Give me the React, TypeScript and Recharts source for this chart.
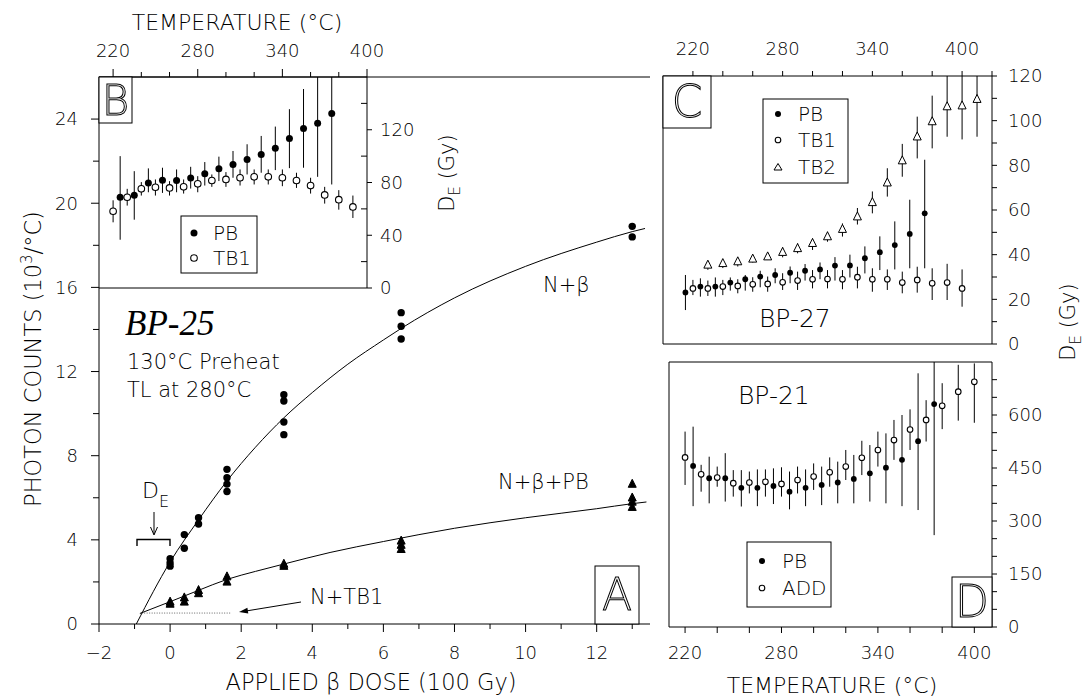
import React from 'react';
import { ComposedChart, Scatter, Line, XAxis, YAxis, ErrorBar, ReferenceLine } from 'recharts';

const FONT = '"DejaVu Sans", "Liberation Sans", sans-serif';
const FW = 200;
const TFS = 18;
const W = 1087;
const H = 697;

// ---------------- Panel A (dose response) ----------------
const doseNB = [0, 0, 0, 0.4, 0.4, 0.8, 0.8, 1.6, 1.6, 1.6, 1.6, 3.2, 3.2, 3.2, 3.2, 6.5, 6.5, 6.5, 13, 13];
const countNB = [3.1, 2.9, 2.75, 4.25, 3.6, 5.05, 4.75, 7.35, 6.95, 6.65, 6.3, 10.9, 10.6, 9.6, 9.0, 14.8, 14.15, 13.55, 18.9, 18.4];
const dosePB = [0, 0, 0.4, 0.4, 0.8, 0.8, 1.6, 1.6, 3.2, 3.2, 6.5, 6.5, 6.5, 13, 13, 13, 13];
const countPB = [1.05, 0.95, 1.25, 1.05, 1.6, 1.45, 2.25, 2.0, 2.85, 2.75, 3.95, 3.75, 3.55, 6.65, 6.0, 5.8, 5.55];
const fitNBdose = [-0.95, 0, 0.8, 1.6, 2.4, 3.2, 4, 5, 6, 6.5, 8, 10, 12, 13, 13.36];
const fitNBcount = [0, 2.95, 4.95, 6.8, 8.4, 9.8, 11.0, 12.35, 13.5, 14.05, 15.5, 17.0, 18.15, 18.65, 18.8];
const fitPBdose = [-0.85, 0, 0.8, 1.6, 2.4, 3.2, 4.5, 6, 8, 10, 12, 13, 13.4];
const fitPBcount = [0.5, 1.06, 1.6, 2.12, 2.5, 2.85, 3.4, 3.92, 4.55, 5.05, 5.48, 5.72, 5.8];
const tb1Dose = [-0.8, 1.7];
const tb1Count = [0.52, 0.52];
const aTicksX = [-2, -1, 0, 1, 2, 3, 4, 5, 6, 7, 8, 9, 10, 11, 12, 13];
const aTicksY = [0, 2, 4, 6, 8, 10, 12, 14, 16, 18, 20, 22, 24];

// ---------------- Panel B (BP-25 plateau) ----------------
const tempB_PB = [225, 235, 245, 255, 265, 275, 285, 295, 305, 315, 325, 335, 345, 355, 365, 375];
const deB_PB = [68.8, 70.4, 79.7, 81.8, 81.5, 83.5, 86.6, 90.4, 93.7, 97.5, 101.3, 105.9, 113.3, 120.9, 125, 132.3];
const loB_PB = [36.6, 51.8, 72.6, 72.1, 72.6, 75.4, 77.7, 81.1, 83.6, 86.1, 87.4, 89.4, 90.9, 91.2, 84.3, 78.5];
const hiB_PB = [100, 88.6, 90.7, 91.2, 89.9, 91.9, 95.5, 99.6, 103.9, 109, 115.3, 122.4, 135.6, 150.9, 160, 160];
const tempB_TB1 = [220, 230, 240, 250, 260, 270, 280, 290, 300, 310, 320, 330, 340, 350, 360, 370, 380, 390];
const deB_TB1 = [58.2, 68.8, 75.2, 76.4, 75.9, 76.7, 79.0, 81.5, 82.3, 83.6, 84.3, 84.3, 83.6, 81.5, 77.7, 70.6, 67.0, 61.5];
const loB_TB1 = [49.8, 62.5, 70.1, 70.1, 70.1, 71.6, 72.6, 76.7, 76.7, 77.7, 78.5, 78.5, 77.2, 75.9, 71.6, 64.0, 59.4, 53.1];
const hiB_TB1 = [66.5, 75.2, 80.3, 82.3, 81.0, 82.3, 84.8, 86.1, 87.9, 89.9, 89.9, 89.9, 89.9, 87.4, 83.6, 76.7, 74.2, 70.1];
const bTicksX = [220, 240, 260, 280, 300, 320, 340, 360, 380, 400];
const bTicksY = [0, 20, 40, 60, 80, 100, 120, 140];

// ---------------- Panel C (BP-27) ----------------
const tempC_PB = [215, 225, 235, 245, 255, 265, 275, 285, 295, 305, 315, 325, 335, 345, 355, 365, 375];
const deC_PB = [23.1, 25.7, 25.7, 27.5, 29.0, 30.2, 30.9, 31.9, 32.8, 33.4, 35.1, 35.2, 38.4, 41.1, 44.3, 49.3, 58.5];
const loC_PB = [15.2, 21.2, 21.2, 23.9, 23.9, 25.4, 27.2, 27.2, 28.4, 29.0, 28.4, 29.8, 31.6, 33.1, 33.4, 33.9, 33.9];
const hiC_PB = [30.9, 29.4, 29.8, 29.8, 30.9, 32.8, 33.9, 34.7, 35.8, 36.5, 38.9, 40.0, 43.7, 48.2, 54.9, 64.6, 82.5];
const tempC_TB1 = [220, 230, 240, 250, 260, 270, 280, 290, 300, 310, 320, 330, 340, 350, 360, 370, 380, 390, 400];
const deC_TB1 = [24.9, 24.9, 25.7, 26.0, 26.7, 26.9, 27.6, 28.4, 29.0, 29.1, 29.0, 29.9, 29.0, 29.0, 27.5, 28.7, 27.2, 27.5, 24.9];
const loC_TB1 = [21.9, 21.5, 21.9, 22.7, 23.4, 23.4, 24.2, 24.2, 24.9, 24.9, 24.5, 24.9, 23.4, 24.2, 22.7, 23.0, 19.7, 19.7, 16.7];
const hiC_TB1 = [28.7, 28.4, 28.7, 29.0, 29.9, 30.2, 31.7, 32.4, 33.1, 33.1, 33.1, 34.6, 33.9, 33.4, 32.4, 34.6, 33.9, 35.9, 33.4];
const tempC_TB2 = [230, 240, 250, 260, 270, 280, 290, 300, 310, 320, 330, 340, 350, 360, 370, 380, 390, 400, 410];
const deC_TB2 = [35.4, 36.1, 36.9, 38.1, 39.1, 41.1, 42.8, 45.1, 48.1, 51.4, 57.0, 63.4, 72.2, 82.1, 92.8, 99.6, 106.3, 106.7, 109.6];
const loC_TB2 = [33.2, 34.0, 34.7, 36.5, 37.6, 38.8, 40.6, 42.1, 45.8, 48.1, 53.5, 58.5, 66.0, 74.9, 83.1, 87.6, 92.8, 91.6, 92.8];
const hiC_TB2 = [36.9, 37.6, 38.4, 39.9, 40.6, 43.3, 45.1, 47.3, 50.3, 54.0, 60.9, 68.3, 78.7, 89.6, 101.8, 111.2, 120, 120, 120];
const cTicksX = [220, 240, 260, 280, 300, 320, 340, 360, 380, 400, 420];
const cTicksY = [0, 10, 20, 30, 40, 50, 60, 70, 80, 90, 100, 110, 120];

// ---------------- Panel D (BP-21) ----------------
const tempD_PB = [225, 235, 245, 255, 265, 275, 285, 295, 305, 315, 325, 335, 345, 355, 365, 375];
const deD_PB = [456, 421, 421, 394, 394, 399, 383, 394, 402, 409, 419, 435, 451, 473, 526, 631];
const loD_PB = [342, 350, 355, 341, 342, 348, 333, 342, 345, 350, 350, 355, 350, 342, 331, 260];
const hiD_PB = [567, 482, 492, 444, 446, 449, 440, 446, 454, 468, 487, 515, 548, 600, 718, 750];
const tempD_ADD = [220, 230, 240, 250, 260, 270, 280, 290, 300, 310, 320, 330, 340, 350, 360, 370, 380, 390, 400];
const deD_ADD = [480, 432, 423, 407, 409, 411, 405, 416, 426, 438, 454, 479, 501, 529, 559, 586, 626, 666, 694];
const loD_ADD = [402, 383, 397, 369, 378, 369, 369, 378, 388, 397, 416, 430, 454, 473, 501, 525, 560, 584, 578];
const hiD_ADD = [553, 459, 454, 444, 440, 446, 452, 454, 463, 480, 501, 527, 553, 586, 616, 642, 690, 742, 746];
const dTicksX = [220, 240, 260, 280, 300, 320, 340, 360, 380, 400];
const dTicksY = [0, 50, 100, 150, 200, 250, 300, 350, 400, 450, 500, 550, 600, 650, 700];

// ---------------- helpers ----------------
const zip = (xs: number[], ys: number[]) => xs.map((x, i) => ({ x, y: ys[i] }));
const zipErr = (xs: number[], ys: number[], lo: number[], hi: number[]) =>
  xs.map((x, i) => ({ x, y: ys[i], e: [ys[i] - lo[i], hi[i] - ys[i]] }));

type Orient = 'left' | 'right' | 'top' | 'bottom';
function mkTick(orient: Orient, spec: (v: number) => { len: number; label?: string | null }, gap: number, fs = TFS) {
  return (props: any) => {
    const { x, y, payload } = props;
    const v = Number(payload.value);
    const { len, label } = spec(v);
    const out = Math.max(len, 0);
    let x2 = x, y2 = y, tx = x, ty = y;
    let anchor: any = 'middle';
    if (orient === 'bottom') { y2 = y + len; ty = y + out + gap + fs * 0.5; }
    else if (orient === 'top') { y2 = y - len; ty = y - out - gap - fs * 0.5; }
    else if (orient === 'left') { x2 = x - len; tx = x - out - gap; anchor = 'end'; }
    else { x2 = x + len; tx = x + out + gap; anchor = 'start'; }
    return (
      <g>
        {len !== 0 && <line x1={x} y1={y} x2={x2} y2={y2} stroke="#000" strokeWidth={1} />}
        {label != null && (
          <text x={tx} y={ty} dy="0.35em" textAnchor={anchor} fontSize={fs} fontFamily={FONT} fontWeight={FW} fill="#000">
            {label}
          </text>
        )}
      </g>
    );
  };
}
const fmt = (v: number) => (v < 0 ? '\u2212' + Math.abs(v) : String(v));

const filledDot = (r: number) => (p: any) => <circle cx={p.cx} cy={p.cy} r={r} fill="#000" />;
const openDot = (r: number) => (p: any) => <circle cx={p.cx} cy={p.cy} r={r} fill="#fff" stroke="#000" strokeWidth={1.1} />;
const tri = (s: number, filled: boolean) => (p: any) => (
  <polygon
    points={`${p.cx},${p.cy - s * 0.6} ${p.cx - s / 2},${p.cy + s * 0.4} ${p.cx + s / 2},${p.cy + s * 0.4}`}
    fill={filled ? '#000' : '#fff'}
    stroke="#000"
    strokeWidth={1}
  />
);

const axisLine = { stroke: '#000', strokeWidth: 1 };
const abs: React.CSSProperties = { position: 'absolute', left: 0, top: 0 };

// plot rectangles (pixels)
const A = { l: 99, r: 650, t: 77, b: 624 };
const B = { l: 99, r: 367, t: 77, b: 288 };
const C = { l: 663, r: 992, t: 76, b: 344 };
const D = { l: 669, r: 992, t: 362, b: 627 };

function PanelA() {
  return (
    <div style={abs}>
      <ComposedChart width={W} height={H} margin={{ top: A.t, right: W - A.r, bottom: H - A.b - 40, left: A.l - 70 }}>
        <XAxis type="number" dataKey="x" domain={[-2, 13.5]} ticks={aTicksX} interval={0} height={40}
          tickSize={0} tickMargin={0} tickLine={false} axisLine={axisLine}
          tick={mkTick('bottom', (v) => (v % 2 === 0 ? { len: 8, label: fmt(v) } : { len: 5 }), 12)} />
        <YAxis type="number" dataKey="y" domain={[0, 26]} ticks={aTicksY} interval={0} width={70}
          tickSize={0} tickMargin={0} tickLine={false} axisLine={axisLine}
          tick={mkTick('left', (v) => (v % 4 === 0 ? { len: 8, label: fmt(v) } : { len: 6 }), 13)} />
        <ReferenceLine y={26} stroke="#000" strokeWidth={1} />
        <Line data={zip(tb1Dose, tb1Count)} dataKey="y" type="linear" dot={false} stroke="#666" strokeWidth={1}
          strokeDasharray="1 1.5" isAnimationActive={false} />
        <Line data={zip(fitNBdose, fitNBcount)} dataKey="y" type="monotone" dot={false} stroke="#000" strokeWidth={1} isAnimationActive={false} />
        <Line data={zip(fitPBdose, fitPBcount)} dataKey="y" type="monotone" dot={false} stroke="#000" strokeWidth={1} isAnimationActive={false} />
        <Scatter data={zip(doseNB, countNB)} shape={filledDot(3.7)} isAnimationActive={false} />
        <Scatter data={zip(dosePB, countPB)} shape={tri(8, true)} isAnimationActive={false} />
      </ComposedChart>
    </div>
  );
}

function PanelB() {
  return (
    <div style={abs}>
      <ComposedChart width={W} height={H} margin={{ top: B.t - 40, right: W - B.r - 60, bottom: H - B.b - 10, left: B.l }}>
        <XAxis xAxisId="t" orientation="top" type="number" dataKey="x" domain={[210, 400]} ticks={bTicksX} interval={0} height={40}
          tickSize={0} tickMargin={0} tickLine={false} axisLine={axisLine}
          tick={mkTick('top', (v) => ((v - 220) % 60 === 0 ? { len: 8, label: String(v) } : { len: 5 }), 9)} />
        <XAxis xAxisId="b" orientation="bottom" type="number" dataKey="x" domain={[210, 400]} ticks={bTicksX.slice(0, -1)} interval={0} height={10}
          tickSize={0} tickMargin={0} tickLine={false} axisLine={axisLine}
          tick={mkTick('bottom', () => ({ len: -5 }), 0)} />
        <YAxis yAxisId="r" orientation="right" type="number" dataKey="y" domain={[0, 160]} ticks={bTicksY} interval={0} width={60}
          tickSize={0} tickMargin={0} tickLine={false} axisLine={axisLine}
          tick={mkTick('right', (v) => (v % 40 === 0 ? { len: 5, label: String(v) } : { len: -6 }), 8)} />
        <Scatter xAxisId="t" yAxisId="r" data={zipErr(tempB_TB1, deB_TB1, loB_TB1, hiB_TB1)} shape={openDot(3.3)} isAnimationActive={false}>
          <ErrorBar dataKey="e" width={0} stroke="#000" strokeWidth={1} direction="y" />
        </Scatter>
        <Scatter xAxisId="t" yAxisId="r" data={zipErr(tempB_PB, deB_PB, loB_PB, hiB_PB)} shape={filledDot(3.5)} isAnimationActive={false}>
          <ErrorBar dataKey="e" width={0} stroke="#000" strokeWidth={1} direction="y" />
        </Scatter>
      </ComposedChart>
    </div>
  );
}

function PanelC() {
  return (
    <div style={abs}>
      <ComposedChart width={W} height={H} margin={{ top: C.t - 40, right: W - C.r - 60, bottom: H - C.b - 10, left: C.l - 10 }}>
        <XAxis xAxisId="t" orientation="top" type="number" dataKey="x" domain={[200, 420]} ticks={cTicksX} interval={0} height={40}
          tickSize={0} tickMargin={0} tickLine={false} axisLine={axisLine}
          tick={mkTick('top', (v) => ((v - 220) % 60 === 0 ? { len: 5, label: String(v) } : { len: 5 }), 13)} />
        <XAxis xAxisId="b" orientation="bottom" type="number" dataKey="x" domain={[200, 420]} ticks={cTicksX.slice(0, -1)} interval={0} height={10}
          tickSize={0} tickMargin={0} tickLine={false} axisLine={axisLine}
          tick={mkTick('bottom', () => ({ len: -5 }), 0)} />
        <YAxis yAxisId="r" orientation="right" type="number" dataKey="y" domain={[0, 120]} ticks={cTicksY} interval={0} width={60}
          tickSize={0} tickMargin={0} tickLine={false} axisLine={axisLine}
          tick={mkTick('right', (v) => (v % 20 === 0 ? { len: 5, label: String(v) } : { len: 5 }), 11)} />
        <YAxis yAxisId="l" orientation="left" type="number" dataKey="y" domain={[0, 120]} ticks={cTicksY.slice(1, -1)} interval={0} width={10}
          tickSize={0} tickMargin={0} tickLine={false} axisLine={axisLine}
          tick={mkTick('left', () => ({ len: -5 }), 0)} />
        <Scatter xAxisId="t" yAxisId="r" data={zipErr(tempC_TB2, deC_TB2, loC_TB2, hiC_TB2)} shape={tri(8, false)} isAnimationActive={false}>
          <ErrorBar dataKey="e" width={0} stroke="#000" strokeWidth={1} direction="y" />
        </Scatter>
        <Scatter xAxisId="t" yAxisId="r" data={zipErr(tempC_TB1, deC_TB1, loC_TB1, hiC_TB1)} shape={openDot(2.8)} isAnimationActive={false}>
          <ErrorBar dataKey="e" width={0} stroke="#000" strokeWidth={1} direction="y" />
        </Scatter>
        <Scatter xAxisId="t" yAxisId="r" data={zipErr(tempC_PB, deC_PB, loC_PB, hiC_PB)} shape={filledDot(2.9)} isAnimationActive={false}>
          <ErrorBar dataKey="e" width={0} stroke="#000" strokeWidth={1} direction="y" />
        </Scatter>
      </ComposedChart>
    </div>
  );
}

function PanelD() {
  return (
    <div style={abs}>
      <ComposedChart width={W} height={H} margin={{ top: D.t - 10, right: W - D.r - 60, bottom: H - D.b - 40, left: D.l - 10 }}>
        <XAxis xAxisId="b" orientation="bottom" type="number" dataKey="x" domain={[210, 411]} ticks={dTicksX} interval={0} height={40}
          tickSize={0} tickMargin={0} tickLine={false} axisLine={axisLine}
          tick={mkTick('bottom', (v) => ((v - 220) % 60 === 0 ? { len: 6, label: String(v) } : { len: 6 }), 11)} />
        <XAxis xAxisId="t" orientation="top" type="number" dataKey="x" domain={[210, 411]} ticks={dTicksX} interval={0} height={10}
          tickSize={0} tickMargin={0} tickLine={false} axisLine={axisLine}
          tick={mkTick('top', () => ({ len: -5 }), 0)} />
        <YAxis yAxisId="r" orientation="right" type="number" dataKey="y" domain={[0, 750]} ticks={dTicksY} interval={0} width={60}
          tickSize={0} tickMargin={0} tickLine={false} axisLine={axisLine}
          tick={mkTick('right', (v) => (v % 150 === 0 ? { len: 5, label: String(v) } : { len: 5 }), 11)} />
        <YAxis yAxisId="l" orientation="left" type="number" dataKey="y" domain={[0, 750]} ticks={dTicksY.slice(1)} interval={0} width={10}
          tickSize={0} tickMargin={0} tickLine={false} axisLine={axisLine}
          tick={mkTick('left', () => ({ len: -5 }), 0)} />
        <Scatter xAxisId="b" yAxisId="r" data={zipErr(tempD_PB, deD_PB, loD_PB, hiD_PB)} shape={filledDot(2.9)} isAnimationActive={false}>
          <ErrorBar dataKey="e" width={0} stroke="#000" strokeWidth={1} direction="y" />
        </Scatter>
        <Scatter xAxisId="b" yAxisId="r" data={zipErr(tempD_ADD, deD_ADD, loD_ADD, hiD_ADD)} shape={openDot(2.8)} isAnimationActive={false}>
          <ErrorBar dataKey="e" width={0} stroke="#000" strokeWidth={1} direction="y" />
        </Scatter>
      </ComposedChart>
    </div>
  );
}

function Overlay() {
  const t = { fontFamily: FONT, fontWeight: FW, fill: '#000' } as any;
  const big = { fontFamily: FONT, fontWeight: FW, fill: 'none', stroke: '#000', strokeWidth: 1 } as any;
  return (
    <svg width={W} height={H} style={abs}>
      {/* axis titles */}
      <text x={237} y={22} dy="0.35em" textAnchor="middle" fontSize={22} {...t}>TEMPERATURE (°C)</text>
      <text x={832} y={685} dy="0.35em" textAnchor="middle" fontSize={22} {...t}>TEMPERATURE (°C)</text>
      <text x={371} y={682} dy="0.35em" textAnchor="middle" fontSize={22.5} {...t}>APPLIED β DOSE (100 Gy)</text>
      <text transform="translate(33,359) rotate(-90)" dy="0.35em" textAnchor="middle" fontSize={22.5} {...t}>
        PHOTON COUNTS (10<tspan dy={-9} fontSize={15}>3</tspan><tspan dy={9}>/°C)</tspan>
      </text>
      <text transform="translate(447,173) rotate(-90)" dy="0.35em" textAnchor="middle" fontSize={21} {...t}>
        D<tspan dy={6} fontSize={15}>E</tspan><tspan dy={-6}> (Gy)</tspan>
      </text>
      <text transform="translate(1068,322) rotate(-90)" dy="0.35em" textAnchor="middle" fontSize={21} {...t}>
        D<tspan dy={6} fontSize={15}>E</tspan><tspan dy={-6}> (Gy)</tspan>
      </text>

      {/* panel letters */}
      <rect x={99} y={77} width={33} height={46} fill="#fff" stroke="#000" />
      <rect x={663} y={76} width={48} height={52} fill="#fff" stroke="#000" />
      <rect x={952} y={577} width={40} height={50} fill="#fff" stroke="#000" />
      <rect x={595} y={566} width={44} height={58} fill="#fff" stroke="#000" />
      <g style={{ filter: 'grayscale(1)' }}>
        <text x={115.5} y={100} dy="0.35em" textAnchor="middle" fontSize={42} {...big}>B</text>
        <text x={687} y={102} dy="0.35em" textAnchor="middle" fontSize={44} {...big}>C</text>
        <text x={972} y={602} dy="0.35em" textAnchor="middle" fontSize={44} {...big}>D</text>
        <text x={617} y={595} dy="0.35em" textAnchor="middle" fontSize={44} {...big}>A</text>
      </g>

      {/* panel A annotations */}
      <text x={125} y={323} dy="0.35em" fontSize={35} fontFamily='"Liberation Serif", serif' fontStyle="italic" fill="#000">BP-25</text>
      <text x={127} y={362} dy="0.35em" fontSize={21} {...t}>130°C Preheat</text>
      <text x={127} y={390} dy="0.35em" fontSize={21} {...t}>TL at 280°C</text>
      <text x={543} y={285} dy="0.35em" fontSize={21} {...t}>N+β</text>
      <text x={498} y={482} dy="0.35em" fontSize={21} {...t}>N+β+PB</text>
      <text x={310} y={597} dy="0.35em" fontSize={21} {...t}>N+TB1</text>
      <text x={142} y={498} fontSize={22} {...t}>D<tspan dy={9} fontSize={16}>E</tspan></text>
      <line x1={154} y1={512} x2={154} y2={534} stroke="#000" strokeWidth={1} />
      <path d="M150.5,527 L154,535 L157.5,527" fill="none" stroke="#000" strokeWidth={1} />
      <path d="M137,546 L137,539.5 L170,539.5 L170,546" fill="none" stroke="#000" strokeWidth={1.4} />
      <line x1={301} y1={602} x2={246} y2={611} stroke="#000" strokeWidth={1} />
      <polygon points="239,612 248.3,613.6 247.4,607.8" fill="#000" />

      {/* legend B */}
      <rect x={181} y={216} width={76} height={57} fill="#fff" stroke="#000" />
      <circle cx={194} cy={233} r={3.5} fill="#000" />
      <text x={213} y={233} dy="0.35em" fontSize={20} {...t}>PB</text>
      <circle cx={194} cy={258} r={3.3} fill="#fff" stroke="#000" strokeWidth={1.1} />
      <text x={213} y={258} dy="0.35em" fontSize={20} {...t}>TB1</text>

      {/* legend C */}
      <rect x={763} y={99} width={85} height={84} fill="#fff" stroke="#000" />
      <circle cx={778} cy={114} r={3} fill="#000" />
      <text x={798} y={114} dy="0.35em" fontSize={20} {...t}>PB</text>
      <circle cx={778} cy={140} r={2.8} fill="#fff" stroke="#000" strokeWidth={1.1} />
      <text x={798} y={140} dy="0.35em" fontSize={20} {...t}>TB1</text>
      <polygon points="778,163.5 774,170 782,170" fill="#fff" stroke="#000" />
      <text x={798} y={167} dy="0.35em" fontSize={20} {...t}>TB2</text>
      <text x={759} y={318} dy="0.35em" fontSize={25} {...t}>BP-27</text>

      {/* legend D */}
      <rect x={747} y={542} width={84} height={65} fill="#fff" stroke="#000" />
      <circle cx={762} cy={561} r={3} fill="#000" />
      <text x={782} y={561} dy="0.35em" fontSize={20} {...t}>PB</text>
      <circle cx={762} cy={588} r={2.8} fill="#fff" stroke="#000" strokeWidth={1.1} />
      <text x={782} y={588} dy="0.35em" fontSize={20} {...t}>ADD</text>
      <text x={738} y={395} dy="0.35em" fontSize={25} {...t}>BP-21</text>
    </svg>
  );
}

export default function App() {
  return (
    <div style={{ position: 'absolute', left: 0, top: 0, width: W, height: H, background: '#fff', overflow: 'hidden' }}>
      <PanelA />
      <PanelB />
      <PanelC />
      <PanelD />
      <Overlay />
    </div>
  );
}
